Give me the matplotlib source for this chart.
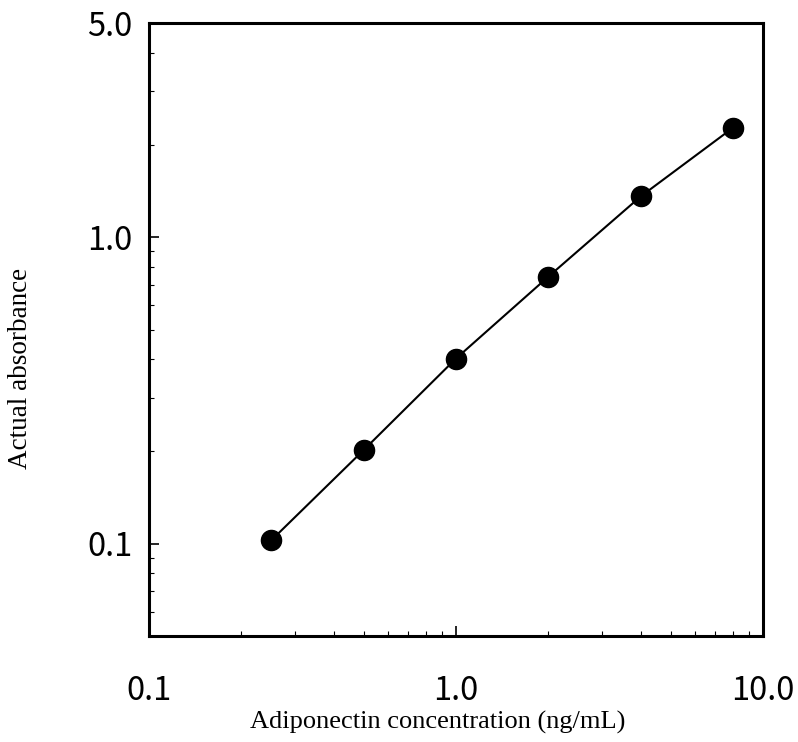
import matplotlib.pyplot as plt
from matplotlib.ticker import FixedLocator, LogLocator, NullFormatter

# datos ______________________________________________________________
concentracio = [0.25, 0.5, 1.0, 2.0, 4.0, 8.0]
absorbancia = [0.1025, 0.202, 0.402, 0.744, 1.36, 2.28]

xticks = [0.1, 1.0, 10.0]
xtick_labels = ['0.1', '1.0', '10.0']
yticks = [0.1, 1.0, 5.0]
ytick_labels = ['0.1', '1.0', '5.0']

# plot _______________________________________________________________
fig = plt.figure(figsize=(7.98, 7.42), dpi=100)
ax = fig.add_axes([0.1867, 0.1429, 0.7694, 0.826])

ax.plot(concentracio, absorbancia, color='black', lw=1.5, marker='o',
        markersize=14.5, markerfacecolor='black', markeredgecolor='black')

ax.set_xscale('log')
ax.set_yscale('log')
ax.set_xlim(0.1, 10)
ax.set_ylim(0.05, 5)

tick_font = dict(family=['Noto Sans CJK JP', 'DejaVu Sans'], size=23.5)
ax.xaxis.set_major_locator(FixedLocator(xticks))
ax.set_xticklabels(xtick_labels, **tick_font)
ax.yaxis.set_major_locator(FixedLocator(yticks))
ax.set_yticklabels(ytick_labels, **tick_font)
ax.xaxis.set_minor_locator(LogLocator(base=10, subs=range(2, 10)))
ax.yaxis.set_minor_locator(LogLocator(base=10, subs=range(2, 10)))
ax.xaxis.set_minor_formatter(NullFormatter())
ax.yaxis.set_minor_formatter(NullFormatter())

ax.tick_params(which='major', direction='in', length=7, width=1.2)
ax.tick_params(which='minor', direction='in', length=3.5, width=0.8)
ax.tick_params(axis='x', which='major', pad=28)
ax.tick_params(axis='y', which='major', pad=12)
# 5.0 no te marca llarga
ax.yaxis.get_major_ticks()[2].tick1line.set_markersize(0)

for s in ax.spines.values():
    s.set_linewidth(2.2)

# etiquetes dels eixos posades a ma per no quedar tallades
fig.text(0.549, 0.027, 'Adiponectin concentration (ng/mL)', family='Liberation Serif',
         fontsize=19, ha='center', va='center')
fig.text(0.026, 0.503, 'Actual absorbance', family='Liberation Serif', fontsize=19.5,
         ha='center', va='center', rotation=90)

fig.savefig('out.png', dpi=100)
